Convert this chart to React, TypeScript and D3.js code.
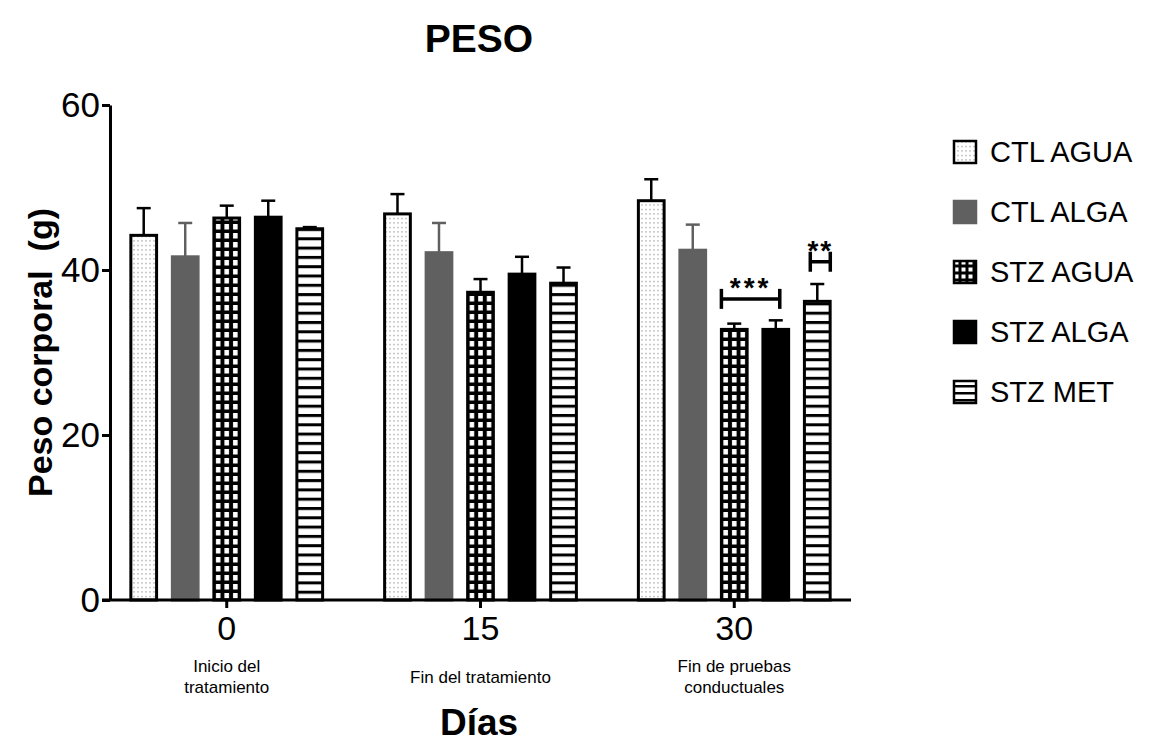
import React, { useEffect, useRef } from 'react'
import * as d3 from 'd3'

// data
const groups = ['0', '15', '30']
const groupNotes = [['Inicio del', 'tratamiento'], ['Fin del tratamiento'], ['Fin de pruebas', 'conductuales']]
const series = ['CTL AGUA', 'CTL ALGA', 'STZ AGUA', 'STZ ALGA', 'STZ MET']
const ctlAgua = [44.2, 46.8, 48.4]
const ctlAgua_err = [3.3, 2.4, 2.6]
const ctlAlga = [41.6, 42.1, 42.4]
const ctlAlga_err = [4.1, 3.6, 3.1]
const stzAgua = [46.3, 37.3, 32.8]
const stzAgua_err = [1.5, 1.6, 0.7]
const stzAlga = [46.4, 39.5, 32.8]
const stzAlga_err = [2.0, 2.1, 1.1]
const stzMet = [45.0, 38.4, 36.2]
const stzMet_err = [0.2, 1.9, 2.1]
const yTicks = [0, 20, 40, 60]

const W = 1154
const H = 754
const margin = { top: 105, right: 303, bottom: 154, left: 110 }

const fills: Record<string, string> = {
  'CTL AGUA': 'dots',
  'CTL ALGA': '#606060',
  'STZ AGUA': 'grid',
  'STZ ALGA': '#000',
  'STZ MET': 'stripes',
}
const strokes: Record<string, string> = {
  'CTL AGUA': '#000',
  'CTL ALGA': '#606060',
  'STZ AGUA': '#000',
  'STZ ALGA': '#000',
  'STZ MET': '#000',
}

export default function App() {
  const ref = useRef<SVGSVGElement>(null)

  useEffect(() => {
    const svg = d3.select(ref.current)
    svg.selectAll('*').remove()
    const font = 'Arial, "Liberation Sans", sans-serif'

    const values = [ctlAgua, ctlAlga, stzAgua, stzAlga, stzMet]
    const errs = [ctlAgua_err, ctlAlga_err, stzAgua_err, stzAlga_err, stzMet_err]
    const rows: any[] = []
    groups.forEach((g, gi) => {
      series.forEach((s, si) => {
        rows.push({ group: g, gi, series: s, value: values[si][gi], err: errs[si][gi] })
      })
    })

    const innerW = W - margin.left - margin.right
    const innerH = H - margin.top - margin.bottom

    const x = d3.scaleBand().domain(groups).range([margin.left, margin.left + innerW])
      .paddingInner(0.12).paddingOuter(0.02)
    const xs = d3.scaleBand().domain(series).range([0, x.bandwidth()]).padding(0.38)
    const y = d3.scaleLinear().domain([0, 60]).range([margin.top + innerH, margin.top])
    const bw = xs.bandwidth()

    const defs = svg.append('defs')
    // dotted fill
    const dots = defs.append('pattern').attr('id', 'dots').attr('patternUnits', 'userSpaceOnUse')
      .attr('width', 4).attr('height', 4.5)
    dots.append('rect').attr('width', 4).attr('height', 4.5).attr('fill', '#fff')
    dots.append('rect').attr('x', 1.5).attr('y', 2).attr('width', 1).attr('height', 1).attr('fill', '#555')

    // stripes fill aligned with the baseline
    const stripes = defs.append('pattern').attr('id', 'stripes').attr('patternUnits', 'userSpaceOnUse')
      .attr('width', 10).attr('height', 9.3).attr('y', y(0))
    stripes.append('rect').attr('width', 10).attr('height', 9.3).attr('fill', '#fff')
    stripes.append('rect').attr('width', 10).attr('height', 3).attr('fill', '#000')

    // grid fill, one tile origin per bar
    rows.filter(d => fills[d.series] === 'grid').forEach(d => {
      const bx = x(d.group)! + xs(d.series)!
      const cw = bw / 3
      const p = defs.append('pattern').attr('id', 'grid' + d.gi).attr('patternUnits', 'userSpaceOnUse')
        .attr('x', bx).attr('y', y(0)).attr('width', cw).attr('height', 9)
      p.append('rect').attr('width', cw).attr('height', 9).attr('fill', '#000')
      p.append('rect').attr('x', 2).attr('y', 2).attr('width', cw - 4).attr('height', 5.5).attr('fill', '#fff')
    })

    const fillOf = (d: any) => {
      const f = fills[d.series]
      if (f === 'dots' || f === 'stripes') return `url(#${f})`
      if (f === 'grid') return `url(#grid${d.gi})`
      return f
    }

    // error bars (upper only)
    const eb = svg.append('g')
    rows.forEach(d => {
      const cx = x(d.group)! + xs(d.series)! + bw / 2
      eb.append('line').attr('x1', cx).attr('x2', cx).attr('y1', y(d.value)).attr('y2', y(d.value + d.err))
        .attr('stroke', strokes[d.series]).attr('stroke-width', 2.5)
      eb.append('line').attr('x1', cx - 7).attr('x2', cx + 7).attr('y1', y(d.value + d.err)).attr('y2', y(d.value + d.err))
        .attr('stroke', strokes[d.series]).attr('stroke-width', 2.5)
    })

    // bars
    svg.append('g').selectAll('rect').data(rows).enter().append('rect')
      .attr('x', d => x(d.group)! + xs(d.series)!)
      .attr('y', d => y(d.value))
      .attr('width', bw)
      .attr('height', d => y(0) - y(d.value))
      .attr('fill', fillOf)
      .attr('stroke', d => strokes[d.series])
      .attr('stroke-width', 3)

    // axes
    const yAxis = svg.append('g').attr('transform', `translate(${margin.left},0)`)
      .call(d3.axisLeft(y).tickValues(yTicks).tickSize(8).tickSizeOuter(0).tickPadding(2))
    yAxis.select('.domain').attr('stroke-width', 3)
    yAxis.selectAll('.tick line').attr('stroke-width', 3)
    yAxis.selectAll('.tick text').attr('font-family', font).attr('font-size', 35).attr('fill', '#000')

    const xAxis = svg.append('g').attr('transform', `translate(0,${y(0)})`)
      .call(d3.axisBottom(x).tickSize(8).tickSizeOuter(0).tickPadding(8))
    xAxis.select('.domain').attr('stroke-width', 3)
      .attr('d', `M${margin.left - 8},0H${margin.left + innerW}`)
    xAxis.selectAll('.tick line').attr('stroke-width', 3)
    xAxis.selectAll('.tick text').attr('font-family', font).attr('font-size', 34).attr('fill', '#000')

    // notes under the day ticks
    groups.forEach((g, gi) => {
      const lines = groupNotes[gi]
      const cx = x(g)! + x.bandwidth() / 2
      const t = svg.append('text').attr('x', cx).attr('text-anchor', 'middle')
        .attr('font-family', font).attr('font-size', 17)
      const y0 = lines.length === 1 ? 683 : 672
      lines.forEach((l, i) => {
        t.append('tspan').attr('x', cx).attr('y', y0 + i * 21).text(l)
      })
    })

    // significance marks in day 30
    const g30 = '30'
    const bxA = x(g30)! + xs('STZ AGUA')!
    const cxB = x(g30)! + xs('STZ ALGA')! + bw / 2
    const by = y(36.5)
    const sig = svg.append('g').attr('stroke', '#000').attr('stroke-width', 3.5)
    sig.append('line').attr('x1', bxA).attr('x2', cxB + 4).attr('y1', by).attr('y2', by)
    sig.append('line').attr('x1', bxA).attr('x2', bxA).attr('y1', by - 10).attr('y2', by + 10)
    sig.append('line').attr('x1', cxB + 4).attr('x2', cxB + 4).attr('y1', by - 10).attr('y2', by + 10)
    svg.append('text').attr('x', (bxA + cxB + 4) / 2).attr('y', by - 2).attr('text-anchor', 'middle')
      .attr('font-family', font).attr('font-weight', 'bold').attr('font-size', 28)
      .attr('letter-spacing', 3).text('***')

    const cxM = x(g30)! + xs('STZ MET')! + bw / 2 + 3
    const hy = y(41)
    sig.append('line').attr('x1', cxM - 10).attr('x2', cxM + 10).attr('y1', hy).attr('y2', hy)
    sig.append('line').attr('x1', cxM - 10).attr('x2', cxM - 10).attr('y1', hy - 10).attr('y2', hy + 10)
    sig.append('line').attr('x1', cxM + 10).attr('x2', cxM + 10).attr('y1', hy - 10).attr('y2', hy + 10)
    svg.append('text').attr('x', cxM).attr('y', hy - 2).attr('text-anchor', 'middle')
      .attr('font-family', font).attr('font-weight', 'bold').attr('font-size', 28)
      .attr('letter-spacing', 2).text('**')

    // titles
    svg.append('text').attr('x', 479).attr('y', 52).attr('text-anchor', 'middle')
      .attr('font-family', font).attr('font-weight', 'bold').attr('font-size', 39).text('PESO')
    svg.append('text').attr('x', 479).attr('y', 735).attr('text-anchor', 'middle')
      .attr('font-family', font).attr('font-weight', 'bold').attr('font-size', 37).text('Días')
    svg.append('text').attr('transform', `translate(52,${(y(0) + y(60)) / 2}) rotate(-90)`)
      .attr('text-anchor', 'middle').attr('font-family', font).attr('font-weight', 'bold')
      .attr('font-size', 34).style('white-space', 'pre').text('Peso corporal  (g)')

    // legend
    const lp = defs.append('pattern').attr('id', 'lgrid').attr('patternUnits', 'userSpaceOnUse')
      .attr('x', 953).attr('y', 0).attr('width', 7).attr('height', 7)
    lp.append('rect').attr('width', 7).attr('height', 7).attr('fill', '#000')
    lp.append('rect').attr('x', 1.5).attr('y', 1.5).attr('width', 4).attr('height', 4).attr('fill', '#fff')
    const ls = defs.append('pattern').attr('id', 'lstripes').attr('patternUnits', 'userSpaceOnUse')
      .attr('width', 10).attr('height', 7).attr('y', 0)
    ls.append('rect').attr('width', 10).attr('height', 7).attr('fill', '#fff')
    ls.append('rect').attr('width', 10).attr('height', 2.5).attr('fill', '#000')

    const legendY = d3.scalePoint().domain(series).range([152, 392])
    const leg = svg.append('g')
    series.forEach(s => {
      const cy = legendY(s)!
      const f = fills[s]
      let fill = f
      if (f === 'dots') fill = 'url(#dots)'
      if (f === 'grid') fill = 'url(#lgrid)'
      if (f === 'stripes') fill = 'url(#lstripes)'
      leg.append('rect').attr('x', 954).attr('y', cy - 11).attr('width', 22).attr('height', 22)
        .attr('fill', fill).attr('stroke', strokes[s]).attr('stroke-width', 2.5)
      leg.append('text').attr('x', 990).attr('y', cy + 10).attr('font-family', font)
        .attr('font-size', 29).text(s)
    })
  }, [])

  return (
    <div>
      <svg ref={ref} width={W} height={H} style={{ display: 'block', margin: '-8px', background: '#fff' }} />
    </div>
  )
}
